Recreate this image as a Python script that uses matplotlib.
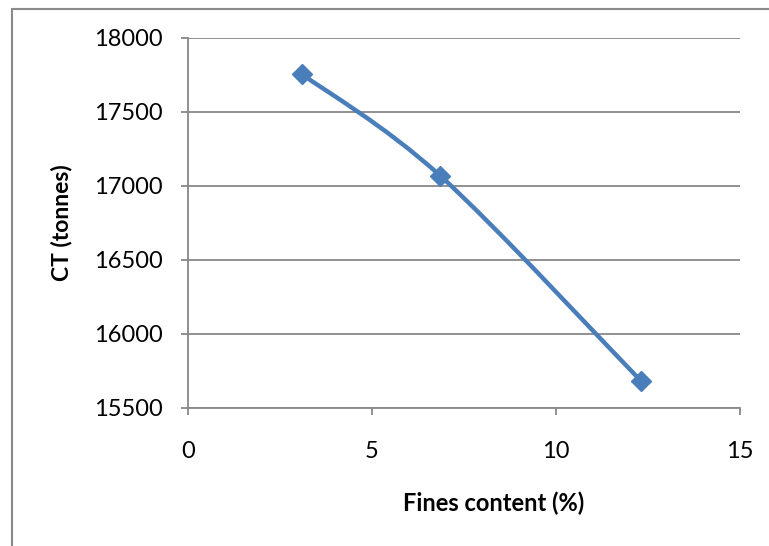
import numpy as np
import matplotlib
matplotlib.use('Agg')
import matplotlib.pyplot as plt
from matplotlib.path import Path
from matplotlib.patches import PathPatch, Rectangle

# Data
fines_content = [3.1, 6.85, 12.3]
ct_tonnes = [17755, 17070, 15685]
x_ticks = [0, 5, 10, 15]
y_ticks = [15500, 16000, 16500, 17000, 17500, 18000]

line_color = '#4A7EBB'
grid_color = '#888888'

plt.rcParams['font.family'] = ['Lato', 'DejaVu Sans']

fig = plt.figure(figsize=(7.69, 5.46), dpi=100)
ax = fig.add_axes([188 / 769, 1 - 408 / 546, (740 - 188) / 769, (408 - 38) / 546])

# Excel-style smoothed line (cubic Bezier through the points)
pts = np.column_stack([fines_content, ct_tonnes]).astype(float)
ext = np.vstack([pts[0], pts, pts[-1]])
verts = [tuple(pts[0])]
codes = [Path.MOVETO]
for i in range(len(pts) - 1):
    p_prev, p0, p1, p_next = ext[i], ext[i + 1], ext[i + 2], ext[i + 3]
    c1 = p0 + (p1 - p_prev) / 6
    c2 = p1 - (p_next - p0) / 6
    verts += [tuple(c1), tuple(c2), tuple(p1)]
    codes += [Path.CURVE4] * 3
curve = PathPatch(Path(verts, codes), facecolor='none', edgecolor=line_color,
                  lw=3.2, capstyle='round', joinstyle='round', zorder=3)
ax.add_patch(curve)

ax.plot(fines_content, ct_tonnes, linestyle='none', marker='D', markersize=10,
        color=line_color, zorder=4)

ax.set_xlim(0, 15)
ax.set_ylim(15500, 18000)
ax.set_xticks(x_ticks)
ax.set_yticks(y_ticks)
ax.grid(axis='y', color=grid_color, linewidth=1.3)
ax.set_axisbelow(True)

for side in ['top', 'right']:
    ax.spines[side].set_visible(False)
for side in ['left', 'bottom']:
    ax.spines[side].set_color(grid_color)
    ax.spines[side].set_linewidth(1.3)

ax.tick_params(axis='both', direction='out', length=5, width=1.3,
               color=grid_color, labelsize=17)
ax.tick_params(axis='y', pad=13)
ax.tick_params(axis='x', pad=19)

ax.set_xlabel('Fines content (%)', fontsize=17, fontweight='bold')
ax.xaxis.set_label_coords(0.553, -0.225)
ax.set_ylabel('CT (tonnes)', fontsize=16.5, fontweight='bold', labelpad=16)

# outer chart border
fig.patches.append(Rectangle((12 / 769, -0.1), 1.2, 1 - 9 / 546 + 0.1,
                             transform=fig.transFigure, fill=False,
                             edgecolor='#8a8a8a', linewidth=1.5))

fig.savefig('out.png', dpi=100)
